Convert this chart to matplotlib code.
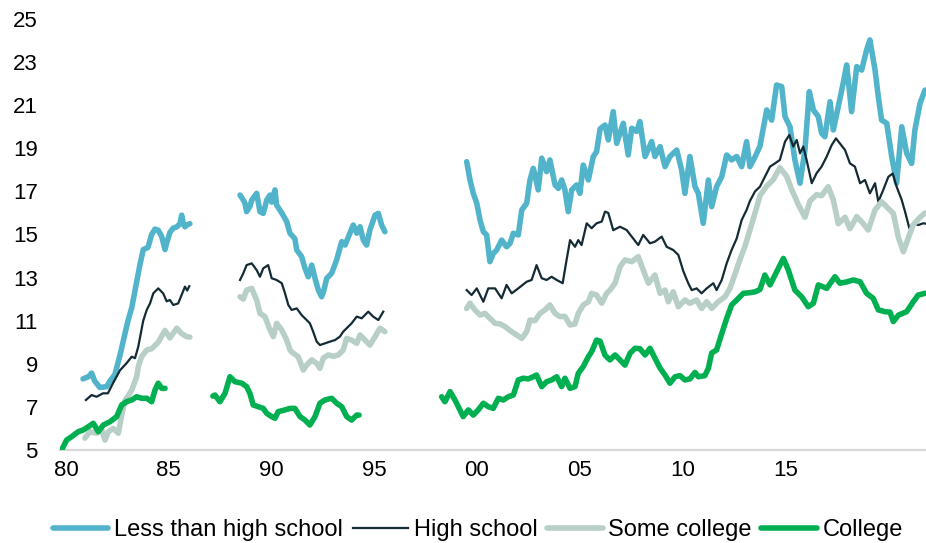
import numpy as np
import matplotlib
matplotlib.use('Agg')
import matplotlib.pyplot as plt

nan = np.nan

# Less than high school (разрывы в рядах - nan)
years_lhs = [1980.83, 1981.09, 1981.25, 1981.40, 1981.65, 1981.98, 1982.14, 1982.38, 1982.63, 1982.87,
             1983.02, 1983.20, 1983.44, 1983.60, 1983.76, 1983.99, 1984.17, 1984.33, 1984.49, 1984.66,
             1984.82, 1984.90, 1985.06, 1985.22, 1985.39, 1985.55, 1985.63, 1985.71, 1985.79, 1985.90,
             1986.03, 1987.0,
             1988.47, 1988.63, 1988.71, 1988.79, 1988.95, 1989.04, 1989.28, 1989.44, 1989.60, 1989.77,
             1989.93, 1990.01, 1990.17, 1990.25, 1990.50, 1990.74, 1990.90, 1991.14, 1991.23, 1991.47,
             1991.63, 1991.79, 1991.96, 1992.12, 1992.28, 1992.44, 1992.52, 1992.69, 1992.93, 1993.17,
             1993.42, 1993.58, 1993.82, 1993.98, 1994.15, 1994.31, 1994.47, 1994.63, 1994.79, 1995.04,
             1995.20, 1995.36, 1995.52, 1997.0,
             1999.50, 1999.66, 1999.82, 1999.99, 2000.15, 2000.31, 2000.47, 2000.63, 2000.79, 2000.96,
             2001.20, 2001.44, 2001.61, 2001.77, 2002.01, 2002.18, 2002.42, 2002.58, 2002.74, 2002.98,
             2003.15, 2003.39, 2003.55, 2003.80, 2003.96, 2004.12, 2004.28, 2004.44, 2004.61, 2004.85,
             2005.01, 2005.17, 2005.42, 2005.66, 2005.82, 2005.99, 2006.23, 2006.39, 2006.63, 2006.80,
             2007.12, 2007.36, 2007.53, 2007.77, 2007.93, 2008.18, 2008.50, 2008.66, 2008.91, 2009.15,
             2009.39, 2009.72, 2009.96, 2010.12, 2010.36, 2010.61, 2010.77, 2011.01, 2011.26, 2011.42,
             2011.66, 2011.91, 2012.15, 2012.39, 2012.64, 2012.88, 2013.12, 2013.28, 2013.53, 2013.77,
             2014.10, 2014.34, 2014.58, 2014.83, 2014.99, 2015.23, 2015.47, 2015.72, 2015.96, 2016.17,
             2016.37, 2016.61, 2016.77, 2016.93, 2017.18, 2017.34, 2017.58, 2017.82, 2017.99, 2018.23,
             2018.48, 2018.72, 2018.96, 2019.12, 2019.37, 2019.53, 2019.69, 2019.94, 2020.18, 2020.42,
             2020.67, 2020.91, 2021.15, 2021.31, 2021.56, 2021.80]
less_hs = [8.30, 8.40, 8.57, 8.20, 7.90, 7.94, 8.20, 8.50, 9.40, 10.40,
           11.00, 11.60, 12.80, 13.60, 14.30, 14.40, 15.00, 15.25, 15.20, 14.90,
           14.30, 14.60, 15.10, 15.30, 15.35, 15.50, 15.90, 15.50, 15.36, 15.45,
           15.50, nan,
           16.83, 16.60, 16.45, 16.06, 16.30, 16.60, 16.91, 16.06, 15.98, 16.60,
           16.83, 16.50, 17.07, 16.37, 16.00, 15.60, 15.06, 14.80, 14.28, 13.97,
           13.43, 13.04, 13.58, 12.97, 12.42, 12.11, 12.30, 12.97, 13.20, 13.82,
           14.67, 14.51, 15.06, 15.44, 15.06, 15.36, 14.74, 14.51, 15.21, 15.90,
           15.98, 15.44, 15.13, nan,
           18.38, 17.53, 16.91, 16.45, 15.67, 15.13, 14.98, 13.74, 14.12, 14.28,
           14.74, 14.43, 14.59, 15.06, 14.98, 16.14, 16.45, 17.53, 18.07, 17.07,
           18.54, 17.92, 18.46, 17.30, 17.14, 17.53, 17.07, 16.06, 17.07, 17.30,
           16.91, 18.22, 17.53, 18.62, 18.84, 19.90, 20.08, 19.39, 20.70, 19.23,
           20.16, 18.69, 19.93, 19.78, 20.24, 18.62, 19.31, 18.62, 19.08, 18.15,
           18.62, 18.92, 17.99, 16.91, 18.62, 17.22, 16.91, 15.52, 17.53, 16.29,
           17.22, 17.68, 18.69, 18.46, 18.62, 18.15, 19.31, 18.15, 18.60, 19.10,
           20.78, 20.31, 21.94, 21.86, 20.47, 20.00, 18.46, 17.38, 18.92, 21.63,
           20.78, 20.47, 19.70, 19.54, 21.16, 19.85, 20.93, 22.02, 22.87, 20.70,
           22.79, 22.63, 23.56, 24.03, 22.63, 21.39, 20.31, 20.16, 18.62, 17.38,
           20.00, 18.77, 18.30, 19.85, 21.09, 21.70]

# High school
years_hs = [1980.97, 1981.25, 1981.49, 1981.80, 1982.04, 1982.29, 1982.63, 1982.95, 1983.20, 1983.36,
            1983.52, 1983.76, 1983.93, 1984.09, 1984.25, 1984.49, 1984.73, 1984.90, 1985.06, 1985.22,
            1985.46, 1985.63, 1985.79, 1985.90, 1986.00, 1987.0,
            1988.47, 1988.63, 1988.79, 1989.04, 1989.28, 1989.44, 1989.60, 1989.84, 1990.01, 1990.25,
            1990.50, 1990.66, 1990.82, 1990.98, 1991.23, 1991.47, 1991.71, 1991.87, 1992.03, 1992.20,
            1992.36, 1992.60, 1992.85, 1993.09, 1993.33, 1993.49, 1993.66, 1993.90, 1994.15, 1994.39,
            1994.71, 1994.95, 1995.20, 1995.44, 1997.0,
            1999.50, 1999.74, 1999.99, 2000.31, 2000.55, 2000.88, 2001.20, 2001.44, 2001.69, 2002.01,
            2002.42, 2002.66, 2002.90, 2003.15, 2003.39, 2003.63, 2003.88, 2004.17, 2004.36, 2004.53,
            2004.77, 2004.93, 2005.09, 2005.34, 2005.58, 2005.82, 2006.07, 2006.23, 2006.39, 2006.63,
            2006.96, 2007.28, 2007.53, 2007.85, 2008.09, 2008.42, 2008.66, 2008.99, 2009.23, 2009.55,
            2009.80, 2010.04, 2010.28, 2010.45, 2010.69, 2010.93, 2011.18, 2011.50, 2011.66, 2011.91,
            2012.15, 2012.39, 2012.64, 2012.88, 2013.12, 2013.28, 2013.53, 2013.77, 2014.01, 2014.26,
            2014.50, 2014.74, 2014.99, 2015.20, 2015.39, 2015.56, 2015.72, 2015.88, 2016.04, 2016.29,
            2016.53, 2016.77, 2017.02, 2017.26, 2017.47, 2017.66, 2017.91, 2018.15, 2018.39, 2018.64,
            2018.88, 2019.12, 2019.37, 2019.53, 2019.77, 2020.02, 2020.23, 2020.42, 2020.67, 2020.83,
            2021.04, 2021.23, 2021.47, 2021.72, 2021.85]
high_school = [7.32, 7.55, 7.47, 7.63, 7.63, 8.10, 8.70, 9.03, 9.33, 9.26,
               9.80, 11.00, 11.50, 11.80, 12.27, 12.50, 12.27, 11.90, 11.96, 11.73,
               11.80, 12.20, 12.58, 12.40, 12.60, nan,
               12.89, 13.20, 13.58, 13.66, 13.35, 13.04, 13.43, 13.58, 12.97, 12.89,
               12.74, 12.27, 11.73, 11.50, 11.57, 11.26, 11.03, 10.88, 10.49, 10.03,
               9.87, 9.95, 10.03, 10.10, 10.26, 10.49, 10.65, 10.88, 11.19, 11.11,
               11.42, 11.19, 11.03, 11.42, nan,
               12.42, 12.19, 12.50, 11.88, 12.50, 12.50, 12.04, 12.66, 12.27, 12.50,
               12.81, 12.89, 13.58, 12.97, 12.89, 13.04, 12.89, 12.74, 13.82, 14.74,
               14.43, 14.74, 14.51, 15.52, 15.29, 15.52, 15.60, 16.06, 16.00, 15.20,
               15.36, 15.21, 14.90, 14.51, 14.98, 14.59, 14.67, 14.90, 14.43, 14.28,
               14.05, 13.30, 12.74, 12.42, 12.50, 12.27, 12.50, 12.74, 12.42, 12.89,
               13.66, 14.28, 14.82, 15.67, 16.14, 16.55, 17.00, 17.22, 17.68, 18.15,
               18.30, 18.46, 19.31, 19.62, 19.08, 19.39, 18.77, 19.08, 18.46, 17.38,
               17.85, 18.15, 18.62, 19.15, 19.46, 19.23, 18.92, 18.30, 18.15, 17.38,
               17.53, 16.91, 17.38, 16.52, 17.07, 17.68, 17.83, 17.22, 16.60, 16.06,
               15.29, 15.52, 15.44, 15.52, 15.50]

# Some college
years_sc = [1980.92, 1981.17, 1981.49, 1981.74, 1981.90, 1982.06, 1982.30, 1982.55, 1982.71, 1982.87,
            1983.02, 1983.20, 1983.44, 1983.52, 1983.68, 1983.93, 1984.17, 1984.49, 1984.82, 1985.06,
            1985.39, 1985.63, 1985.87, 1986.03, 1987.0,
            1988.47, 1988.63, 1988.79, 1989.04, 1989.28, 1989.44, 1989.68, 1989.93, 1990.09, 1990.25,
            1990.50, 1990.74, 1990.90, 1991.06, 1991.30, 1991.55, 1991.71, 1991.96, 1992.20, 1992.36,
            1992.52, 1992.76, 1993.01, 1993.25, 1993.49, 1993.66, 1993.90, 1994.15, 1994.31, 1994.55,
            1994.79, 1995.04, 1995.28, 1995.52, 1997.0,
            1999.50, 1999.66, 1999.90, 2000.15, 2000.39, 2000.63, 2000.88, 2001.12, 2001.36, 2001.69,
            2001.93, 2002.18, 2002.42, 2002.58, 2002.82, 2003.07, 2003.31, 2003.55, 2003.80, 2004.04,
            2004.28, 2004.53, 2004.77, 2004.93, 2005.17, 2005.42, 2005.58, 2005.82, 2006.07, 2006.31,
            2006.47, 2006.72, 2006.96, 2007.20, 2007.53, 2007.85, 2008.09, 2008.34, 2008.66, 2008.91,
            2009.15, 2009.31, 2009.55, 2009.80, 2010.12, 2010.36, 2010.69, 2010.93, 2011.18, 2011.42,
            2011.74, 2012.07, 2012.31, 2012.55, 2012.80, 2013.04, 2013.28, 2013.53, 2013.77, 2014.10,
            2014.42, 2014.74, 2015.07, 2015.31, 2015.63, 2015.96, 2016.20, 2016.53, 2016.77, 2017.09,
            2017.34, 2017.58, 2017.91, 2018.15, 2018.48, 2018.80, 2019.04, 2019.37, 2019.69, 2020.02,
            2020.26, 2020.51, 2020.75, 2020.99, 2021.23, 2021.56, 2021.80]
some_college = [5.55, 5.85, 5.78, 5.93, 5.46, 5.85, 6.00, 5.78, 6.60, 7.30,
                7.50, 7.78, 8.40, 8.87, 9.33, 9.64, 9.70, 10.00, 10.55, 10.20,
                10.65, 10.40, 10.26, 10.24, nan,
                12.11, 12.00, 12.42, 12.50, 11.96, 11.34, 11.19, 10.57, 10.26, 10.88,
                10.57, 10.10, 9.64, 9.49, 9.33, 8.71, 8.94, 9.18, 9.02, 8.79,
                9.26, 9.41, 9.35, 9.41, 9.64, 10.18, 10.10, 9.95, 10.34, 10.10,
                9.87, 10.26, 10.65, 10.49, nan,
                11.57, 11.81, 11.50, 11.26, 11.34, 11.11, 10.88, 10.85, 10.73, 10.49,
                10.34, 10.18, 10.49, 11.03, 11.00, 11.34, 11.50, 11.73, 11.34, 11.19,
                11.20, 10.80, 10.85, 11.34, 11.73, 11.88, 12.27, 12.19, 11.81, 12.27,
                12.42, 12.74, 13.50, 13.82, 13.74, 13.97, 13.35, 12.74, 13.12, 12.27,
                12.42, 11.88, 12.34, 11.65, 11.96, 11.81, 11.96, 11.57, 11.88, 11.57,
                11.88, 12.11, 12.50, 13.15, 13.85, 14.45, 15.20, 16.00, 16.80, 17.25,
                17.55, 18.10, 17.70, 17.10, 16.40, 15.80, 16.55, 16.85, 16.80, 17.22,
                16.60, 15.50, 15.80, 15.27, 15.83, 15.50, 15.21, 16.14, 16.52, 16.20,
                15.98, 14.85, 14.20, 14.85, 15.45, 15.80, 16.00]

# College
years_col = [1979.79, 1980.03, 1980.28, 1980.60, 1980.84, 1981.09, 1981.33, 1981.57, 1981.82, 1982.14,
             1982.47, 1982.71, 1982.95, 1983.20, 1983.44, 1983.68, 1983.93, 1984.17, 1984.33, 1984.49,
             1984.66, 1984.82, 1986.0,
             1987.15, 1987.25, 1987.49, 1987.74, 1987.98, 1988.22, 1988.55, 1988.79, 1988.95, 1989.11,
             1989.36, 1989.60, 1989.77, 1990.01, 1990.17, 1990.33, 1990.66, 1990.90, 1991.14, 1991.39,
             1991.63, 1991.87, 1992.12, 1992.36, 1992.60, 1992.93, 1993.17, 1993.42, 1993.66, 1993.90,
             1994.15, 1994.26, 1996.0,
             1998.28, 1998.44, 1998.69, 1998.93, 1999.17, 1999.33, 1999.58, 1999.82, 2000.06, 2000.31,
             2000.55, 2000.79, 2001.04, 2001.28, 2001.52, 2001.77, 2002.01, 2002.25, 2002.50, 2002.74,
             2002.90, 2003.15, 2003.39, 2003.63, 2003.88, 2004.12, 2004.28, 2004.53, 2004.77, 2004.93,
             2005.17, 2005.42, 2005.58, 2005.82, 2005.99, 2006.23, 2006.47, 2006.72, 2006.96, 2007.20,
             2007.45, 2007.69, 2007.93, 2008.18, 2008.42, 2008.66, 2008.91, 2009.15, 2009.39, 2009.64,
             2009.88, 2010.12, 2010.36, 2010.61, 2010.77, 2011.09, 2011.26, 2011.42, 2011.66, 2011.91,
             2012.15, 2012.39, 2012.64, 2012.96, 2013.28, 2013.53, 2013.77, 2014.01, 2014.26, 2014.58,
             2014.91, 2015.15, 2015.47, 2015.80, 2016.12, 2016.37, 2016.61, 2017.02, 2017.42, 2017.66,
             2017.99, 2018.31, 2018.64, 2018.96, 2019.28, 2019.53, 2019.85, 2020.10, 2020.26, 2020.51,
             2020.91, 2021.23, 2021.47, 2021.80]
college = [5.00, 5.46, 5.62, 5.85, 5.93, 6.08, 6.24, 5.85, 6.16, 6.31,
           6.55, 7.09, 7.24, 7.32, 7.47, 7.40, 7.40, 7.24, 7.78, 8.10,
           7.86, 7.86, nan,
           7.50, 7.55, 7.24, 7.63, 8.40, 8.17, 8.10, 7.94, 7.63, 7.09,
           7.01, 6.93, 6.70, 6.55, 6.47, 6.78, 6.86, 6.93, 6.93, 6.55,
           6.39, 6.16, 6.55, 7.17, 7.32, 7.40, 7.17, 7.01, 6.55, 6.39,
           6.62, 6.62, nan,
           7.47, 7.24, 7.71, 7.32, 6.86, 6.55, 6.86, 6.62, 6.86, 7.17,
           7.01, 6.93, 7.40, 7.32, 7.47, 7.55, 8.25, 8.33, 8.30, 8.40,
           8.48, 7.94, 8.17, 8.25, 8.40, 7.94, 8.33, 7.86, 7.94, 8.56,
           8.87, 9.33, 9.56, 10.10, 10.05, 9.40, 9.18, 9.41, 9.18, 8.94,
           9.49, 9.72, 9.70, 9.41, 9.72, 9.26, 8.80, 8.48, 8.10, 8.40,
           8.45, 8.25, 8.30, 8.60, 8.40, 8.45, 8.79, 9.50, 9.64, 10.40,
           11.10, 11.73, 11.96, 12.27, 12.30, 12.34, 12.45, 13.12, 12.66, 13.27,
           13.89, 13.35, 12.42, 12.11, 11.65, 11.81, 12.66, 12.50, 13.04, 12.74,
           12.80, 12.89, 12.81, 12.27, 12.04, 11.50, 11.42, 11.40, 10.96, 11.26,
           11.42, 11.88, 12.19, 12.27]

tick_years = [1980, 1985, 1990, 1995, 2000, 2005, 2010, 2015]
tick_labels = ['80', '85', '90', '95', '00', '05', '10', '15']
y_ticks = list(range(5, 26, 2))

plt.rcParams['font.family'] = ['Liberation Sans', 'DejaVu Sans']

fig = plt.figure(figsize=(9.26, 5.43), dpi=100)
ax = fig.add_axes([60 / 926, 93 / 543, 866 / 926, 431 / 543])

ax.plot(years_lhs, less_hs, color='#52B4CA', lw=4, solid_capstyle='round',
        solid_joinstyle='round', label='Less than high school')
ax.plot(years_hs, high_school, color='#142B35', lw=1.6, label='High school')
ax.plot(years_sc, some_college, color='#B7CFC7', lw=4, solid_capstyle='round',
        solid_joinstyle='round', label='Some college')
ax.plot(years_col, college, color='#00AF50', lw=4, solid_capstyle='round',
        solid_joinstyle='round', label='College')

ax.set_xlim(1979.71, 2021.85)
ax.set_ylim(5, 25)
ax.set_xticks(tick_years)
ax.set_xticklabels(tick_labels)
ax.set_yticks(y_ticks)

# Оставляем только нижнюю серую линию
for s in ['top', 'right', 'left']:
    ax.spines[s].set_visible(False)
ax.spines['bottom'].set_color('#D9D9D9')
ax.spines['bottom'].set_linewidth(1.6)
ax.spines['bottom'].set_zorder(0)

ax.tick_params(axis='both', length=0, labelsize=16, colors='black')
ax.tick_params(axis='x', pad=7)
ax.tick_params(axis='y', pad=16)

# Легенда внизу в одну строку
fig.legend(loc='center', bbox_to_anchor=(478 / 926, 13 / 543), ncol=4, frameon=False,
           fontsize=17, handlelength=2.35, handletextpad=0.25, columnspacing=0.4,
           borderaxespad=0)

plt.savefig('out.png', dpi=100)
